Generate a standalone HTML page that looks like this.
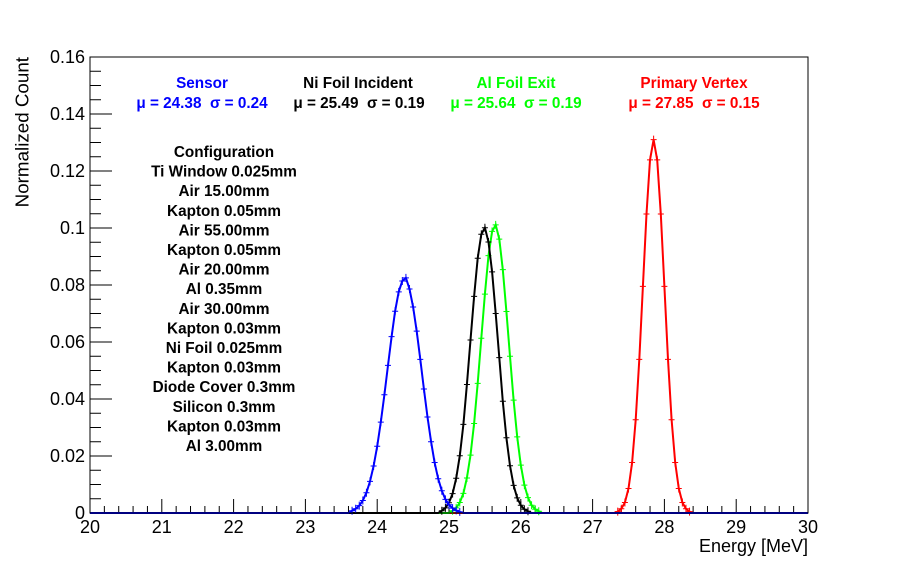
<!DOCTYPE html>
<html><head><meta charset="utf-8"><style>
html,body{margin:0;padding:0;background:#fff;}
svg{display:block;font-family:"Liberation Sans",sans-serif;}
.lg{font-weight:bold;font-size:15.3px;text-anchor:middle;white-space:pre;}
</style></head><body>
<svg id="chart" width="898" height="571" viewBox="0 0 898 571">
<rect x="0" y="0" width="898" height="571" fill="#fff"/>
<g id="axes"></g>
<g id="series"></g>
<rect x="90" y="57" width="718" height="456" fill="none" stroke="#000" stroke-width="1"/>
<text x="22" y="57" transform="rotate(-90 22 57)" text-anchor="end" dominant-baseline="central" font-size="18.8">Normalized Count</text>
<text x="808" y="552" text-anchor="end" font-size="18">Energy [MeV]</text>
<g fill="#0000ff">
<text x="202" y="88" class="lg">Sensor</text>
<text x="202" y="108" class="lg">μ = 24.38  σ = 0.24</text></g>
<g fill="#000">
<text x="358" y="88" class="lg">Ni Foil Incident</text>
<text x="359" y="108" class="lg">μ = 25.49  σ = 0.19</text></g>
<g fill="#00ff00">
<text x="516" y="88" class="lg">Al Foil Exit</text>
<text x="516" y="108" class="lg">μ = 25.64  σ = 0.19</text></g>
<g fill="#ff0000">
<text x="694" y="88" class="lg">Primary Vertex</text>
<text x="694" y="108" class="lg">μ = 27.85  σ = 0.15</text></g>
<g id="config"></g>
</svg>
<script>
const xTicks=[20,21,22,23,24,25,26,27,28,29,30];
const yTicks=[0,0.02,0.04,0.06,0.08,0.1,0.12,0.14,0.16];
const yTickLabels=["0","0.02","0.04","0.06","0.08","0.1","0.12","0.14","0.16"];
const configLines=["Configuration","Ti Window 0.025mm","Air 15.00mm","Kapton 0.05mm","Air 55.00mm","Kapton 0.05mm","Air 20.00mm","Al 0.35mm","Air 30.00mm","Kapton 0.03mm","Ni Foil 0.025mm","Kapton 0.03mm","Diode Cover 0.3mm","Silicon 0.3mm","Kapton 0.03mm","Al 3.00mm"];
const binWidth=0.05;
const blueStart=23.65;
const blueVals=[0.0008,0.0015,0.0026,0.0044,0.0071,0.0111,0.0165,0.0234,0.0319,0.0415,0.0518,0.0619,0.0708,0.0776,0.0814,0.0825,0.0786,0.0723,0.0638,0.0539,0.0435,0.0337,0.025,0.0177,0.012,0.0078,0.0048,0.0029,0.0017,0.0009,0.0004];
const blackStart=24.90;
const blackVals=[0.0008,0.0018,0.0036,0.0068,0.0122,0.0201,0.0311,0.0451,0.0607,0.076,0.0894,0.0978,0.1001,0.0951,0.0846,0.070,0.0545,0.0392,0.0264,0.0166,0.0097,0.0053,0.0027,0.0013,0.0006];
const greenStart=25.05;
const greenVals=[0.0008,0.0018,0.0037,0.0069,0.0123,0.0203,0.0314,0.0455,0.0613,0.0768,0.0903,0.0988,0.1011,0.0961,0.0854,0.0707,0.055,0.0396,0.0267,0.0168,0.0098,0.0054,0.0027,0.0013,0.0006];
const redStart=27.35;
const redVals=[0.0005,0.0015,0.0037,0.0086,0.0177,0.0327,0.0539,0.0795,0.1049,0.1239,0.131,0.1239,0.1049,0.0795,0.0539,0.0327,0.0177,0.0086,0.0037,0.0015,0.0005];

const NS="http://www.w3.org/2000/svg";
const X0=90,X1=808,Y0=513,Y1=57;
function xs(v){return X0+(v-20)/10*(X1-X0);}
function ys(v){return Y0-(v/0.16)*(Y0-Y1);}
function mk(tag,attrs,parent){const e=document.createElementNS(NS,tag);for(const k in attrs)e.setAttribute(k,attrs[k]);parent.appendChild(e);return e;}
const axes=document.getElementById('axes');
for(let i=0;i<=50;i++){const v=20+i*0.2;const major=i%5===0;
const t=mk('line',{x1:xs(v),x2:xs(v),y1:Y0,y2:Y0-(major?14:7),stroke:'#000','stroke-width':1},axes);

}
xTicks.forEach(v=>{const t=mk('text',{x:xs(v),y:Y0+20,'text-anchor':'middle','font-size':18},axes);t.textContent=String(v);

});
for(let i=0;i<=32;i++){const v=i*0.005;const major=i%4===0;
const t=mk('line',{x1:X0,x2:X0+(major?22:11),y1:ys(v),y2:ys(v),stroke:'#000','stroke-width':1},axes);

}
yTicks.forEach((v,i)=>{const t=mk('text',{x:X0-5,y:ys(v)+6,'text-anchor':'end','font-size':18},axes);t.textContent=yTickLabels[i];

});
const cfg=document.getElementById('config');
configLines.forEach((s,i)=>{const t=mk('text',{x:224,y:157+i*19.6,class:'lg'},cfg);t.textContent=s;

});
const ser=document.getElementById('series');
function drawSeries(start,vals,color,name){
 const g=mk('g',{},ser);
 
 
 let pts=[[xs(20),ys(0)],[xs(start-binWidth),ys(0)]];
 vals.forEach((v,i)=>pts.push([xs(start+i*binWidth),ys(v)]));
 pts.push([xs(start+vals.length*binWidth),ys(0)]);pts.push([xs(30),ys(0)]);
 const p=mk('polyline',{points:pts.map(p=>p[0].toFixed(1)+','+p[1].toFixed(1)).join(' '),fill:'none',stroke:color,'stroke-width':2},g);
 
 
 vals.forEach((v,i)=>{const cx=xs(start+i*binWidth),cy=ys(v);
  const m=mk('path',{d:`M${cx-3},${cy}h6M${cx},${cy-4}v8`,stroke:color,'stroke-width':1},g);
  
  });
}
drawSeries(redStart,redVals,'#ff0000','primary-vertex-series');
drawSeries(greenStart,greenVals,'#00ff00','al-foil-exit-series');
drawSeries(blackStart,blackVals,'#000000','ni-foil-incident-series');
drawSeries(blueStart,blueVals,'#0000ff','sensor-series');
</script>
</body></html>
